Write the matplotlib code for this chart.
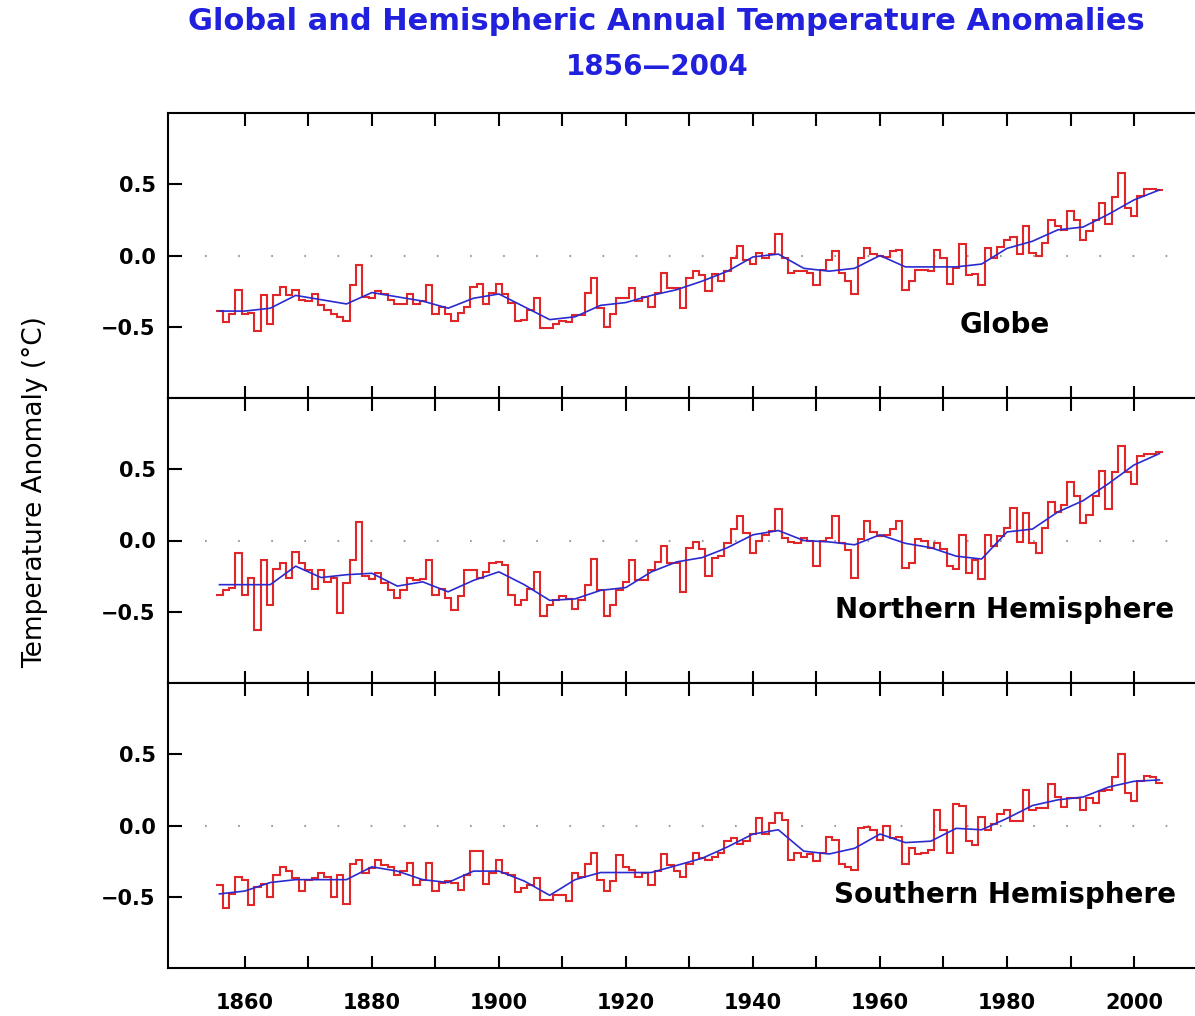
import numpy as np
import matplotlib.pyplot as plt

# annual anomalies 1856-2004
years = np.arange(1856, 2005)
globe = [
    -0.39, -0.47, -0.41, -0.24,                                              # 1856-59
    -0.41, -0.40, -0.53, -0.28, -0.48, -0.28, -0.22, -0.28, -0.24, -0.31,    # 1860s
    -0.32, -0.27, -0.35, -0.38, -0.41, -0.43, -0.46, -0.21, -0.07, -0.29,    # 1870s
    -0.30, -0.25, -0.27, -0.31, -0.34, -0.34, -0.27, -0.34, -0.32, -0.21,    # 1880s
    -0.41, -0.36, -0.41, -0.46, -0.40, -0.36, -0.22, -0.20, -0.34, -0.26,    # 1890s
    -0.20, -0.27, -0.33, -0.46, -0.45, -0.38, -0.30, -0.51, -0.51, -0.48,    # 1900s
    -0.46, -0.47, -0.42, -0.42, -0.26, -0.16, -0.37, -0.50, -0.41, -0.30,    # 1910s
    -0.30, -0.23, -0.32, -0.29, -0.36, -0.26, -0.12, -0.23, -0.23, -0.37,    # 1920s
    -0.16, -0.11, -0.14, -0.25, -0.13, -0.18, -0.11, -0.02, 0.07, -0.03,     # 1930s
    -0.06, 0.02, -0.02, 0.01, 0.15, -0.02, -0.12, -0.11, -0.11, -0.12,       # 1940s
    -0.21, -0.10, -0.03, 0.03, -0.12, -0.18, -0.27, -0.02, 0.05, 0.01,       # 1950s
    0.00, -0.01, 0.03, 0.04, -0.24, -0.18, -0.10, -0.10, -0.11, 0.04,        # 1960s
    -0.02, -0.20, -0.09, 0.08, -0.14, -0.13, -0.21, 0.05, -0.02, 0.06,       # 1970s
    0.11, 0.13, 0.01, 0.21, 0.02, 0.00, 0.09, 0.25, 0.21, 0.18,              # 1980s
    0.31, 0.25, 0.11, 0.17, 0.25, 0.37, 0.22, 0.41, 0.58, 0.33,              # 1990s
    0.28, 0.42, 0.47, 0.47, 0.46,                                            # 2000-04
]
north = [
    -0.38, -0.35, -0.33, -0.09,
    -0.38, -0.26, -0.63, -0.14, -0.45, -0.20, -0.16, -0.26, -0.08, -0.16,
    -0.21, -0.34, -0.21, -0.29, -0.26, -0.51, -0.30, -0.14, 0.13, -0.25,
    -0.27, -0.23, -0.30, -0.35, -0.40, -0.35, -0.26, -0.28, -0.27, -0.14,
    -0.38, -0.34, -0.40, -0.49, -0.39, -0.21, -0.21, -0.26, -0.22, -0.16,
    -0.15, -0.17, -0.38, -0.45, -0.42, -0.34, -0.22, -0.53, -0.45, -0.42,
    -0.39, -0.41, -0.48, -0.42, -0.31, -0.13, -0.35, -0.53, -0.45, -0.35,
    -0.29, -0.14, -0.28, -0.28, -0.21, -0.15, -0.04, -0.16, -0.16, -0.36,
    -0.05, -0.01, -0.06, -0.25, -0.12, -0.11, -0.02, 0.08, 0.17, 0.05,
    -0.09, 0.00, 0.04, 0.07, 0.22, 0.02, -0.01, -0.02, 0.02, 0.00,
    -0.18, 0.00, 0.02, 0.17, -0.02, -0.07, -0.26, 0.01, 0.14, 0.06,
    0.03, 0.04, 0.08, 0.14, -0.19, -0.16, 0.01, 0.00, -0.05, -0.02,
    -0.06, -0.18, -0.20, 0.04, -0.23, -0.14, -0.27, 0.04, -0.04, 0.03,
    0.09, 0.23, -0.01, 0.19, -0.02, -0.09, 0.09, 0.27, 0.20, 0.25,
    0.41, 0.31, 0.12, 0.18, 0.31, 0.49, 0.22, 0.48, 0.66, 0.48,
    0.40, 0.59, 0.61, 0.61, 0.62,
]
south = [
    -0.42, -0.58, -0.48, -0.36,
    -0.38, -0.56, -0.43, -0.41, -0.50, -0.35, -0.29, -0.32, -0.37, -0.46,
    -0.38, -0.37, -0.33, -0.36, -0.50, -0.35, -0.55, -0.27, -0.24, -0.33,
    -0.30, -0.24, -0.28, -0.29, -0.35, -0.32, -0.26, -0.42, -0.38, -0.26,
    -0.46, -0.40, -0.39, -0.40, -0.45, -0.35, -0.18, -0.18, -0.41, -0.33,
    -0.24, -0.33, -0.35, -0.47, -0.44, -0.42, -0.37, -0.52, -0.52, -0.49,
    -0.49, -0.53, -0.33, -0.36, -0.27, -0.19, -0.38, -0.46, -0.39, -0.21,
    -0.29, -0.31, -0.36, -0.33, -0.42, -0.32, -0.20, -0.28, -0.32, -0.36,
    -0.27, -0.19, -0.23, -0.24, -0.22, -0.19, -0.11, -0.09, -0.13, -0.11,
    -0.06, 0.05, -0.06, 0.02, 0.09, 0.04, -0.24, -0.19, -0.22, -0.20,
    -0.25, -0.19, -0.08, -0.10, -0.27, -0.29, -0.31, -0.02, -0.01, -0.03,
    -0.10, 0.00, -0.09, -0.08, -0.27, -0.16, -0.20, -0.19, -0.17, 0.11,
    -0.03, -0.19, 0.15, 0.14, -0.11, -0.14, 0.06, -0.03, 0.01, 0.08,
    0.11, 0.03, 0.03, 0.25, 0.11, 0.12, 0.12, 0.29, 0.20, 0.13,
    0.19, 0.19, 0.11, 0.19, 0.16, 0.24, 0.25, 0.34, 0.50, 0.23,
    0.17, 0.31, 0.35, 0.34, 0.30,
]

# smoothed curves, read every 4 years
years_smooth = np.arange(1856, 2005, 4)
globe_smooth = [-0.39, -0.39, -0.37, -0.28, -0.31, -0.34, -0.26, -0.29, -0.32, -0.37,
                -0.30, -0.27, -0.36, -0.45, -0.43, -0.35, -0.33, -0.28, -0.24, -0.18,
                -0.11, -0.01, 0.01, -0.09, -0.11, -0.09, 0.00, -0.08, -0.08, -0.08,
                -0.06, 0.05, 0.10, 0.18, 0.20, 0.29, 0.39, 0.46]
north_smooth = [-0.31, -0.31, -0.31, -0.18, -0.26, -0.24, -0.23, -0.32, -0.29, -0.36,
                -0.28, -0.22, -0.31, -0.42, -0.41, -0.35, -0.33, -0.22, -0.15, -0.12,
                -0.05, 0.04, 0.07, 0.00, -0.01, -0.03, 0.04, -0.02, -0.05, -0.11,
                -0.13, 0.06, 0.08, 0.20, 0.28, 0.40, 0.53, 0.61]
south_smooth = [-0.48, -0.46, -0.40, -0.38, -0.38, -0.38, -0.29, -0.32, -0.38, -0.40,
                -0.32, -0.32, -0.39, -0.49, -0.38, -0.33, -0.33, -0.33, -0.28, -0.23,
                -0.15, -0.06, -0.03, -0.18, -0.20, -0.16, -0.06, -0.12, -0.11, -0.02,
                -0.03, 0.05, 0.14, 0.18, 0.20, 0.27, 0.31, 0.32]

names = ['Globe', 'Northern Hemisphere', 'Southern Hemisphere']
xticks = list(range(1860, 2001, 10))
xlabels = [str(t) if t % 20 == 0 else '' for t in xticks]

W, H = 1195, 1016
fig = plt.figure(figsize=(W / 100, H / 100), dpi=100)

edges = np.append(years - 0.5, years[-1] + 0.5)
panels = [(globe, globe_smooth), (north, north_smooth), (south, south_smooth)]
for i, (vals, smooth) in enumerate(panels):
    top = 113 + i * 285
    ax = fig.add_axes([168 / W, 1 - (top + 285) / H, 1 - 168 / W, 285 / H])
    ax.plot([1853.7, 2009.6], [0, 0], color='#9a9a9a', lw=1.5, ls=(0, (0.8, 15.1)), zorder=1)
    ax.stairs(vals, edges, baseline=None, color='#e02626', lw=1.5, zorder=2)
    ax.plot(years_smooth, smooth, color='#2a2ad0', lw=1.2, zorder=3)
    ax.set_xlim(1847.9, 2009.6)
    ax.set_ylim(-1, 1)
    ax.set_yticks([-0.5, 0, 0.5], labels=['\u22120.5', '0.0', '0.5'], fontweight='bold')
    ax.set_xticks(xticks, labels=xlabels, fontweight='bold')
    ax.tick_params(axis='x', direction='in', top=True, bottom=True, length=9, width=1.5,
                   labelsize=15, pad=18, labelbottom=(i == 2))
    ax.tick_params(axis='y', direction='in', length=10, width=1.5, labelsize=15, pad=9)
    for s in ['left', 'top', 'bottom']:
        ax.spines[s].set_linewidth(1.5)
    ax.spines['right'].set_visible(False)
    ax.text(0.815, 0.268, names[i], transform=ax.transAxes, ha='center', va='center_baseline',
            fontsize=20, fontweight='bold')

fig.text(0.558, 1 - 22 / H, 'Global and Hemispheric Annual Temperature Anomalies',
         ha='center', va='center', fontsize=22, fontweight='bold', color='#2020dd')
fig.text(0.55, 1 - 67 / H, '1856\u20142004', ha='center', va='center', fontsize=20,
         fontweight='bold', color='#2020dd')
fig.text(35 / W, 1 - 492 / H, 'Temperature Anomaly (\u00b0C)', rotation=90,
         ha='center', va='center', fontsize=19)

plt.savefig('out.png', dpi=100)
